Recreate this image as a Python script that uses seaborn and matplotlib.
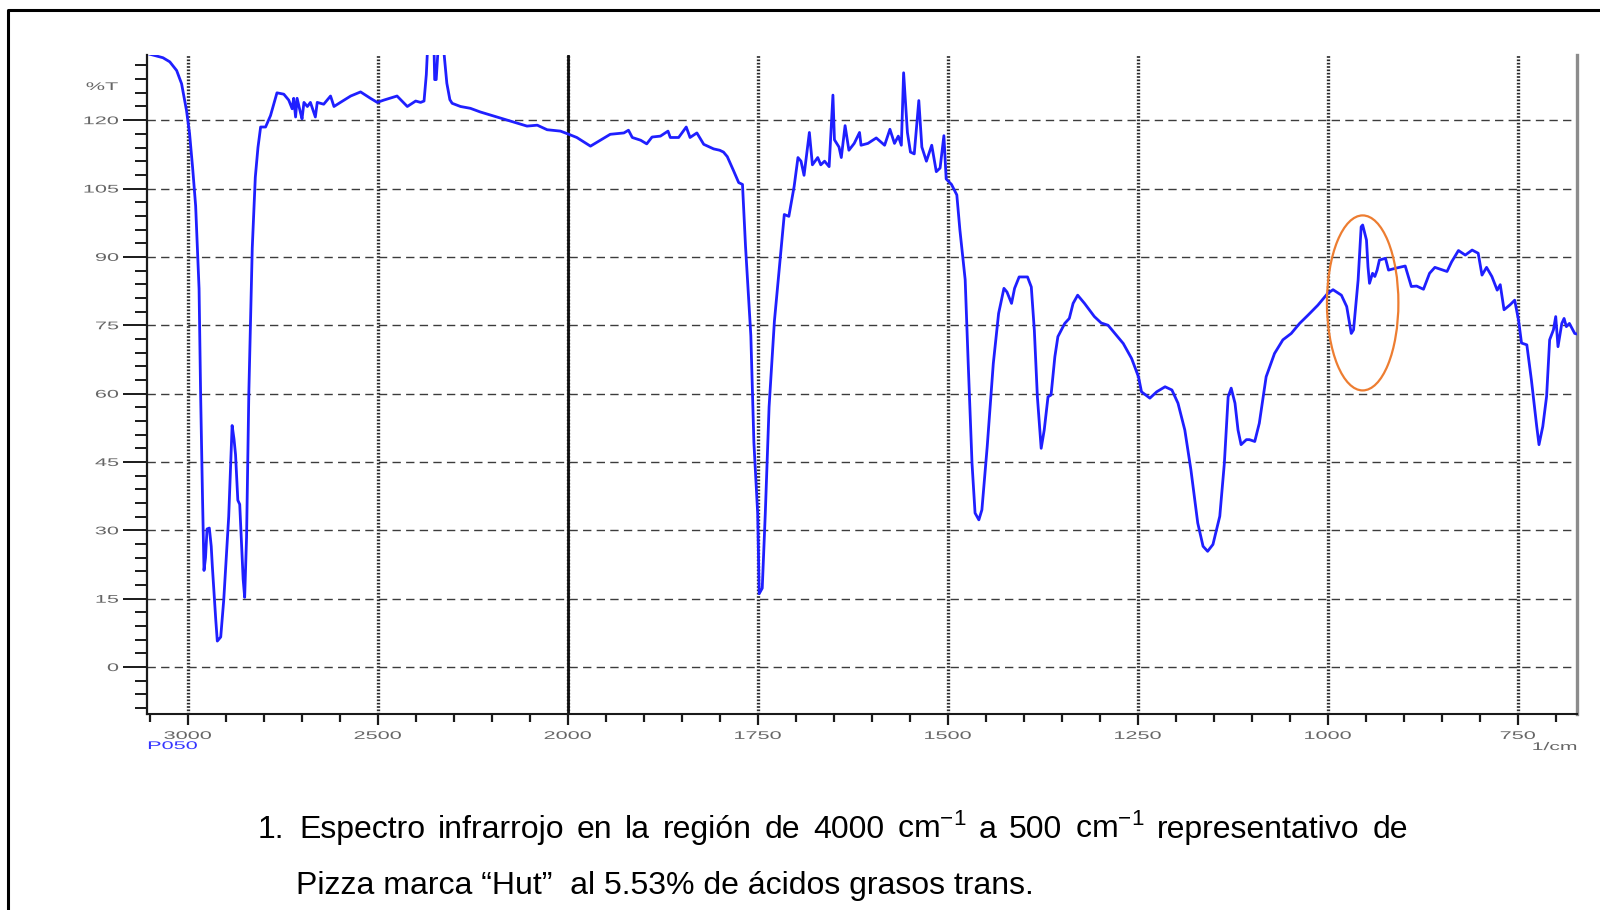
import numpy as np
import pandas as pd
import matplotlib
matplotlib.use("Agg")
import matplotlib.pyplot as plt
import seaborn as sns
from matplotlib.patches import Ellipse
from matplotlib.lines import Line2D
from matplotlib.ticker import FixedLocator
from matplotlib.patheffects import AbstractPathEffect
from matplotlib.transforms import Affine2D

# ---- spectrum (wavenumber in 1/cm, transmittance in %T) ----
# C-H stretching region
wn_ch = [3105, 3065, 3047, 3029, 3016, 3003, 2995, 2987, 2979, 2970,
         2966, 2961, 2957, 2953, 2949, 2943, 2938, 2935, 2926, 2922,
         2913, 2905, 2892, 2883, 2878, 2874, 2868, 2863, 2854, 2850,
         2845, 2839, 2830, 2822, 2815, 2808, 2795, 2782, 2765, 2747,
         2734, 2725, 2721, 2716, 2712, 2703, 2699, 2694, 2685, 2677,
         2664, 2659, 2642, 2624, 2615, 2598, 2571, 2545, 2519, 2501,
         2484, 2449, 2422, 2400, 2387, 2378, 2372, 2368, 2352, 2350,
         2346, 2340, 2328, 2318, 2310, 2304, 2282, 2256, 2230, 2186,
         2142, 2107, 2080, 2054, 2019]
t_ch = [134.6, 133.7, 132.8, 130.9, 128.0, 122.1, 117.1, 109.6, 101.2, 83.0,
        60.3, 37.5, 21.2, 24.0, 30.3, 30.5, 26.5, 22.0, 10.3, 5.7,
        6.6, 14.8, 33.0, 53.0, 50.0, 46.6, 36.6, 35.7, 19.3, 15.3,
        28.5, 60.3, 92.0, 107.5, 114.0, 118.5, 118.5, 121.0, 126.0, 125.7,
        124.4, 122.5, 124.8, 120.7, 124.8, 121.6, 120.3, 123.9, 123.0, 123.9,
        120.7, 123.9, 123.5, 125.3, 123.0, 123.9, 125.3, 126.2, 124.8, 123.9,
        124.4, 125.3, 123.0, 124.2, 123.9, 124.2, 130.0, 137.0, 137.0, 128.9,
        128.9, 137.0, 137.0, 128.1, 124.5, 123.7, 123.0, 122.6, 121.8, 120.7,
        119.6, 118.7, 118.9, 117.9, 117.6]

# Carbonyl region
wn_co = [2000, 1988, 1970, 1957, 1944, 1926, 1920, 1915, 1904, 1896,
         1889, 1878, 1868, 1865, 1854, 1844, 1839, 1830, 1821, 1808,
         1800, 1795, 1790, 1782, 1775, 1770, 1766, 1759, 1755, 1750,
         1748, 1744, 1740, 1735, 1728, 1722, 1715, 1709, 1702, 1697,
         1693, 1689, 1682, 1678, 1671, 1667, 1662, 1656, 1651, 1649,
         1643, 1640, 1635, 1630, 1623, 1616, 1614, 1605, 1594, 1583,
         1576, 1570, 1565, 1561, 1558, 1553, 1549, 1544, 1538, 1534,
         1528, 1521, 1515, 1510, 1505, 1502]
t_co = [117.0, 116.2, 114.3, 115.6, 116.9, 117.2, 117.8, 116.2, 115.6, 114.8,
        116.3, 116.5, 117.6, 116.2, 116.2, 118.5, 116.2, 117.2, 114.7, 113.7,
        113.4, 113.0, 112.0, 109.0, 106.3, 105.9, 92.3, 72.7, 49.3, 33.7,
        16.1, 17.3, 33.7, 57.1, 75.9, 86.8, 99.3, 98.9, 105.5, 111.8,
        111.0, 107.9, 117.3, 110.2, 111.8, 110.2, 111.0, 109.8, 125.5, 115.7,
        114.1, 111.8, 118.8, 113.4, 114.9, 117.3, 114.5, 114.9, 116.1, 114.5,
        118.0, 114.9, 116.5, 114.5, 130.4, 117.3, 113.0, 112.6, 124.3, 114.1,
        111.0, 114.5, 108.7, 109.5, 116.6, 107.1]

# Fingerprint region
wn_fp = [1495, 1488, 1484, 1477, 1473, 1468, 1464, 1459, 1455, 1448,
         1440, 1433, 1426, 1422, 1416, 1412, 1406, 1395, 1390, 1386,
         1382, 1377, 1373, 1368, 1364, 1359, 1355, 1346, 1340, 1335,
         1329, 1320, 1307, 1298, 1289, 1280, 1269, 1258, 1249, 1245,
         1234, 1225, 1214, 1205, 1197, 1188, 1180, 1171, 1164, 1158,
         1151, 1142, 1136, 1131, 1127, 1122, 1118, 1114, 1107, 1103,
         1096, 1090, 1081, 1070, 1059, 1048, 1037, 1026, 1013]
t_fp = [105.9, 103.6, 96.0, 85.0, 66.6, 44.7, 33.8, 32.3, 34.5, 48.4,
        66.6, 77.6, 83.1, 82.3, 79.8, 83.1, 85.6, 85.6, 83.4, 73.9,
        59.3, 48.0, 52.0, 59.3, 59.7, 68.1, 72.5, 75.4, 76.5, 79.8,
        81.6, 79.8, 76.9, 75.5, 75.0, 73.2, 71.0, 67.7, 63.7, 60.4,
        59.0, 60.4, 61.5, 60.8, 57.9, 52.0, 43.3, 31.6, 26.5, 25.4,
        26.9, 33.1, 44.7, 59.3, 61.2, 57.9, 52.0, 48.8, 49.9, 49.9,
        49.5, 53.5, 63.7, 68.8, 71.8, 73.2, 75.4, 77.2, 79.4]

# Trans band and low-wavenumber tail
wn_tr = [1000, 993, 982, 975, 969, 966, 960, 956, 954, 949,
         947, 945, 941, 938, 935, 932, 924, 920, 911, 898,
         890, 883, 874, 866, 859, 852, 843, 837, 828, 819,
         810, 802, 797, 791, 784, 777, 773, 768, 760, 754,
         749, 745, 738, 732, 725, 722, 717, 712, 708, 703,
         700, 697, 692, 689, 686, 682, 675, 668]
t_tr = [82.0, 82.8, 81.6, 79.1, 73.2, 74.0, 84.9, 96.6, 97.0, 93.7,
        87.8, 84.2, 86.4, 85.7, 87.1, 89.3, 89.7, 87.1, 87.5, 88.0,
        83.5, 83.6, 82.9, 86.4, 87.7, 87.3, 86.8, 88.9, 91.4, 90.4,
        91.5, 90.8, 86.0, 87.7, 85.7, 82.7, 83.9, 78.4, 79.5, 80.5,
        76.2, 71.1, 70.7, 63.0, 52.8, 48.8, 52.8, 59.4, 71.8, 74.0,
        76.9, 70.3, 75.4, 76.5, 74.7, 75.4, 73.2, 72.9]

# highlighted trans-fat band (centre, width in 1/cm; centre, height in %T)
trans_band = (954, 94, 79.9, 38.4)

major_x = [3000, 2500, 2000, 1750, 1500, 1250, 1000, 750]
minor_x = list(range(3100, 2000, -100)) + list(range(1950, 650, -50))
major_y = list(range(0, 121, 15))
minor_y = list(range(-9, 134, 3))

caption_1 = ["Espectro", "infrarrojo", "en", "la", "región", "de", "4000",
             "cm$^{-1}$", "a", "500", "cm$^{-1}$", "representativo", "de"]
caption_2 = "Pizza marca \u201cHut\u201d  al 5.53% de ácidos grasos trans."

for a, b in [(wn_ch, t_ch), (wn_co, t_co), (wn_fp, t_fp), (wn_tr, t_tr)]:
    assert len(a) == len(b)

df = pd.DataFrame({
    "wavenumber": wn_ch + wn_co + wn_fp + wn_tr,
    "T": t_ch + t_co + t_fp + t_tr,
})


class Widen(AbstractPathEffect):
    """Stretch glyphs horizontally about a chosen anchor."""

    def __init__(self, factor, anchor="center"):
        super().__init__()
        self.factor = factor
        self.anchor = anchor

    def draw_path(self, renderer, gc, tpath, affine, rgbFace=None):
        ext = tpath.get_extents()
        if self.anchor == "right":
            x0 = ext.x1
        elif self.anchor == "left":
            x0 = ext.x0
        else:
            x0 = 0.5 * (ext.x0 + ext.x1)
        pre = Affine2D().translate(-x0, 0).scale(self.factor, 1).translate(x0, 0)
        renderer.draw_path(gc, tpath, pre + affine, rgbFace)


sns.set_theme(style="ticks")
plt.rcParams["font.family"] = ["Liberation Sans", "DejaVu Sans"]
plt.rcParams["mathtext.fontset"] = "custom"
plt.rcParams["mathtext.rm"] = "Liberation Sans"
plt.rcParams["mathtext.it"] = "Liberation Sans:italic"
plt.rcParams["mathtext.bf"] = "Liberation Sans:bold"

W, H = 1600, 910
fig = plt.figure(figsize=(W / 100, H / 100), dpi=100)
fig.patch.set_facecolor("white")
ax = fig.add_axes([147 / W, 1 - 714 / H, 1430 / W, 659 / H])


# instrument axis: 500 1/cm per division above 2000, 250 below
def fwd(x):
    x = np.asarray(x, dtype=float)
    return np.where(x > 2000, 2000 + (x - 2000) / 2.0, x)


def inv(y):
    y = np.asarray(y, dtype=float)
    return np.where(y > 2000, 2000 + (y - 2000) * 2.0, y)


ax.set_xscale("function", functions=(fwd, inv))

sns.lineplot(data=df, x="wavenumber", y="T", sort=False, estimator=None,
             color="#1f1fff", linewidth=2.0, ax=ax, zorder=3)

ax.set_xlim(3107, 672)
ax.set_ylim(-10.3, 134.3)
ax.set_xlabel("")
ax.set_ylabel("")

# ticks
ax.xaxis.set_major_locator(FixedLocator(major_x))
ax.xaxis.set_minor_locator(FixedLocator(minor_x))
ax.yaxis.set_major_locator(FixedLocator(major_y))
ax.yaxis.set_minor_locator(FixedLocator(minor_y))
ax.set_xticklabels([str(v) for v in major_x])
ax.set_yticklabels([str(v) for v in major_y])

tick_col = "#1a1a1a"
lab_col = "#666666"
ax.tick_params(axis="y", which="major", left=True, direction="out", length=17,
               width=1.4, color=tick_col, labelsize=8, labelcolor=lab_col, pad=3.5)
ax.tick_params(axis="y", which="minor", left=True, direction="out", length=8.6,
               width=1.4, color=tick_col)
ax.tick_params(axis="x", which="major", bottom=True, direction="out", length=8,
               width=1.6, color=tick_col, labelsize=8, labelcolor=lab_col, pad=4.2)
ax.tick_params(axis="x", which="minor", bottom=True, direction="out", length=5.5,
               width=1.6, color=tick_col)

# spines
ax.spines["top"].set_visible(False)
ax.spines["left"].set_color(tick_col)
ax.spines["left"].set_linewidth(1.6)
ax.spines["bottom"].set_color(tick_col)
ax.spines["bottom"].set_linewidth(1.5)
ax.spines["right"].set_color("#8c8c8c")
ax.spines["right"].set_linewidth(2.4)

# grid: dashed horizontals, dotted verticals, solid at the scale change
ax.yaxis.grid(True, which="major", linestyle=(0, (6, 3.8)), linewidth=1.0,
              color="#3c3c3c")
ax.xaxis.grid(True, which="major", linestyle=(0, (0.5, 0.5)), linewidth=2.4,
              color="#2a2a2a")
ax.axvline(2000, color="#111111", linewidth=2.0, zorder=1.6)
ax.set_axisbelow(True)

# highlight of the trans band
cx, w, cy, h = trans_band
ax.add_patch(Ellipse((cx, cy), width=w, height=h, fill=False,
                     edgecolor="#ED7D31", linewidth=1.6, zorder=4))

# axis annotations
fig.text(118 / W, 1 - 87 / H, "%T", ha="right", va="center", fontsize=8,
         color=lab_col, path_effects=[Widen(1.95, "right")])
fig.text(148 / W, 1 - 746 / H, "P050", ha="left", va="center", fontsize=8,
         color="#3535ff", path_effects=[Widen(1.95, "left")])
fig.text(1577 / W, 1 - 747 / H, "1/cm", ha="right", va="center", fontsize=8,
         color=lab_col, path_effects=[Widen(1.9, "right")])

# page frame
fig.add_artist(Line2D([8 / W, 8 / W, 1.0], [0.0, 1 - 10 / H, 1 - 10 / H],
                      transform=fig.transFigure, color="black", linewidth=2.2))

# caption
fig.canvas.draw()
renderer = fig.canvas.get_renderer()

probe = fig.text(0, 0, caption_2, fontsize=20)
fs = 20 * 737.0 / probe.get_window_extent(renderer).width
probe.remove()

y1 = 1 - 838 / H
y2 = 1 - 894 / H
fig.text(258 / W, y1, "1.", fontsize=fs, ha="left", va="baseline", color="black")
words = [fig.text(0, y1, wd, fontsize=fs, ha="left", va="baseline", color="black")
         for wd in caption_1]
widths = [t.get_window_extent(renderer).width for t in words]
x_start, x_end = 299.0, 1408.0
gap = (x_end - x_start - sum(widths)) / (len(words) - 1)
xpos = x_start
for t, wdt in zip(words, widths):
    t.set_x(xpos / W)
    xpos += wdt + gap
fig.text(296 / W, y2, caption_2, fontsize=fs, ha="left", va="baseline", color="black")

# stretched instrument-style tick labels
fig.canvas.draw()
for lab in ax.get_yticklabels():
    lab.set_path_effects([Widen(1.95, "right")])
for lab in ax.get_xticklabels():
    lab.set_path_effects([Widen(1.95, "center")])

fig.savefig("out.png", dpi=100, facecolor="white")
